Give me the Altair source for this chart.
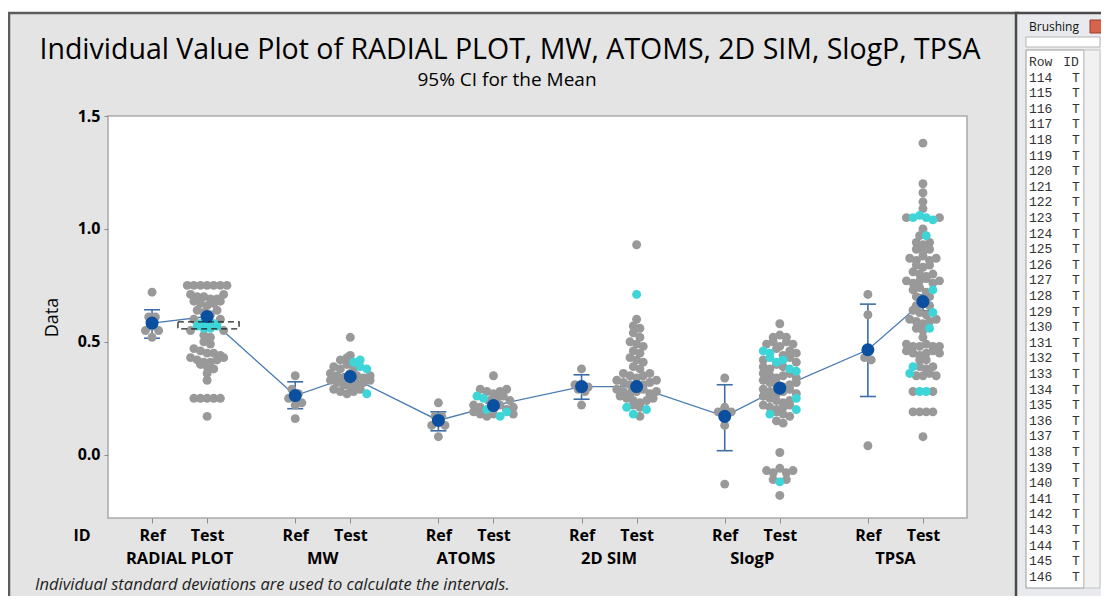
import altair as alt
import pandas as pd

FONT = "Open Sans"
MONO = "Liberation Mono"

groups = ["RADIAL PLOT", "MW", "ATOMS", "2D SIM", "SlogP", "TPSA"]
id_levels = ["Ref", "Test"]

# ---- individual values ----
radial_ref = [0.72, 0.61, 0.61, 0.55, 0.57, 0.55, 0.52]
radial_test = [0.75, 0.75, 0.75, 0.75, 0.75, 0.75, 0.75,
               0.71, 0.70, 0.70, 0.69, 0.69, 0.71,
               0.68, 0.67, 0.66, 0.67, 0.68,
               0.64, 0.63, 0.62, 0.64,
               0.60, 0.58, 0.58, 0.58, 0.60,
               0.55, 0.57, 0.56, 0.56, 0.57, 0.55,
               0.53, 0.52,
               0.50, 0.49,
               0.47, 0.46, 0.45, 0.45, 0.44,
               0.43, 0.42, 0.41, 0.41, 0.42, 0.43,
               0.40, 0.39, 0.38,
               0.36, 0.33,
               0.25, 0.25, 0.25, 0.25, 0.25,
               0.17]
radial_test_brushed = [0, 0, 0, 0, 0, 0, 0,
                       0, 0, 0, 0, 0, 0,
                       0, 0, 0, 0, 0,
                       0, 0, 0, 0,
                       0, 1, 1, 1, 0,
                       0, 1, 1, 1, 1, 0,
                       0, 0,
                       0, 0,
                       0, 0, 0, 0, 0,
                       0, 0, 0, 0, 0, 0,
                       0, 0, 0,
                       0, 0,
                       0, 0, 0, 0, 0,
                       0]

mw_ref = [0.35, 0.29, 0.27, 0.25, 0.26, 0.23, 0.22, 0.16]
mw_test = [0.52,
           0.44,
           0.42, 0.43, 0.41, 0.42,
           0.39, 0.38, 0.40, 0.38, 0.39, 0.38,
           0.36, 0.35, 0.34, 0.36, 0.35, 0.34, 0.35,
           0.33, 0.32, 0.31, 0.30, 0.31, 0.32, 0.33,
           0.29, 0.28, 0.27, 0.28, 0.29, 0.27]
mw_test_brushed = [0,
                   0,
                   0, 0, 1, 1,
                   0, 0, 0, 0, 1, 1,
                   0, 0, 0, 0, 0, 0, 0,
                   0, 0, 0, 0, 0, 0, 0,
                   0, 0, 0, 0, 0, 1]

atoms_ref = [0.23, 0.17, 0.17, 0.13, 0.15, 0.13, 0.08]
atoms_test = [0.35,
              0.29, 0.28, 0.27, 0.28, 0.29,
              0.26, 0.25, 0.24, 0.25, 0.26, 0.24,
              0.22, 0.21, 0.20, 0.21, 0.22, 0.20, 0.21,
              0.19, 0.18, 0.17, 0.18, 0.17, 0.19, 0.18]
atoms_test_brushed = [0,
                      0, 0, 0, 0, 0,
                      1, 1, 0, 0, 0, 0,
                      0, 0, 1, 1, 0, 0, 0,
                      0, 0, 0, 0, 1, 1, 0]

sim2d_ref = [0.38, 0.31, 0.30, 0.30, 0.29, 0.28, 0.22]
sim2d_test = [0.93,
              0.71,
              0.60,
              0.57, 0.56,
              0.54, 0.52,
              0.50, 0.49, 0.48,
              0.46, 0.45,
              0.43, 0.42, 0.41,
              0.39, 0.38,
              0.36, 0.35, 0.34, 0.35, 0.36,
              0.33, 0.32, 0.31, 0.30, 0.31, 0.32, 0.33,
              0.29, 0.28, 0.27, 0.28, 0.29, 0.27, 0.28,
              0.26, 0.25, 0.24, 0.23, 0.24, 0.25,
              0.21, 0.22, 0.21, 0.20,
              0.18, 0.17]
sim2d_test_brushed = [0,
                      1,
                      0,
                      0, 0,
                      0, 0,
                      0, 0, 0,
                      0, 0,
                      0, 0, 0,
                      0, 0,
                      0, 0, 0, 0, 0,
                      0, 0, 0, 0, 0, 0, 0,
                      0, 0, 0, 0, 0, 0, 0,
                      0, 0, 0, 0, 0, 0,
                      1, 0, 0, 1,
                      1, 0]

slogp_ref = [0.34, 0.21, 0.19, 0.17, 0.19, 0.13, -0.13]
slogp_test = [0.58,
              0.52, 0.53, 0.52,
              0.49, 0.50, 0.48, 0.50, 0.49,
              0.46, 0.45, 0.47, 0.44, 0.46, 0.45,
              0.42, 0.43, 0.41, 0.42, 0.43, 0.41,
              0.39, 0.38, 0.40, 0.39, 0.38, 0.37,
              0.36, 0.35, 0.34, 0.35, 0.36, 0.34,
              0.33, 0.32, 0.31, 0.30, 0.31, 0.32,
              0.29, 0.28, 0.27, 0.28, 0.29, 0.27,
              0.26, 0.25, 0.24, 0.23, 0.24, 0.25,
              0.22, 0.21, 0.20, 0.21, 0.22, 0.20,
              0.18, 0.19, 0.18, 0.17,
              0.15, 0.14,
              0.01,
              -0.07, -0.08, -0.06, -0.08, -0.07,
              -0.11, -0.12, -0.11,
              -0.18]
slogp_test_brushed = [0,
                      0, 0, 0,
                      0, 0, 0, 0, 0,
                      1, 1, 0, 0, 0, 0,
                      0, 1, 1, 1, 0, 0,
                      0, 0, 0, 0, 1, 1,
                      0, 0, 0, 0, 0, 0,
                      0, 0, 0, 0, 0, 0,
                      0, 0, 0, 0, 0, 0,
                      0, 0, 0, 0, 0, 1,
                      0, 0, 0, 0, 0, 1,
                      1, 0, 0, 0,
                      0, 0,
                      0,
                      0, 0, 0, 0, 0,
                      0, 1, 0,
                      0]

tpsa_ref = [0.71, 0.62, 0.47, 0.43, 0.42, 0.04]
tpsa_test = [1.38,
             1.20,
             1.16,
             1.12,
             1.09,
             1.05, 1.05, 1.06, 1.05, 1.04, 1.05,
             1.00,
             0.97, 0.97,
             0.94, 0.93, 0.94,
             0.91, 0.90, 0.91,
             0.87, 0.86, 0.88, 0.86, 0.87,
             0.84, 0.83, 0.84,
             0.81, 0.80, 0.79, 0.80,
             0.77, 0.76, 0.77, 0.78, 0.76, 0.77,
             0.73, 0.74, 0.72, 0.73,
             0.70, 0.69, 0.70,
             0.66, 0.67, 0.66,
             0.64, 0.63, 0.62, 0.63,
             0.60, 0.59, 0.58, 0.59, 0.60,
             0.56, 0.55, 0.56,
             0.52,
             0.49, 0.48, 0.48, 0.49, 0.48, 0.48,
             0.46, 0.45, 0.44, 0.45, 0.46, 0.45,
             0.42, 0.42,
             0.39, 0.39, 0.38, 0.39,
             0.36, 0.35, 0.35, 0.36, 0.35,
             0.28, 0.28, 0.28, 0.28,
             0.19, 0.19, 0.19, 0.19,
             0.08]
tpsa_test_brushed = [0,
                     0,
                     0,
                     0,
                     0,
                     0, 1, 1, 1, 1, 0,
                     0,
                     0, 1,
                     0, 0, 0,
                     0, 0, 0,
                     0, 0, 0, 0, 0,
                     0, 0, 0,
                     0, 0, 0, 0,
                     0, 0, 0, 0, 0, 0,
                     0, 0, 0, 1,
                     0, 0, 0,
                     0, 0, 0,
                     0, 0, 0, 1,
                     0, 0, 0, 0, 0,
                     0, 0, 1,
                     0,
                     0, 0, 0, 0, 0, 0,
                     0, 0, 0, 0, 0, 0,
                     0, 0,
                     1, 0, 0, 0,
                     1, 0, 0, 0, 0,
                     0, 1, 1, 0,
                     0, 0, 0, 0,
                     0]

# ---- means and 95% CI, order: group x (Ref, Test) ----
mean_vals = [0.583, 0.612, 0.262, 0.346, 0.152, 0.218, 0.302, 0.302, 0.170, 0.295, 0.465, 0.678]
ci_lo = [0.516, 0.594, 0.204, 0.334, 0.106, 0.207, 0.246, 0.289, 0.018, 0.283, 0.258, 0.638]
ci_hi = [0.642, 0.630, 0.323, 0.358, 0.190, 0.229, 0.354, 0.315, 0.310, 0.307, 0.667, 0.708]

# brushing rectangle drawn over RADIAL PLOT / Test
brush_range = [0.557, 0.588]

# brushing window rows
brush_rows = list(range(114, 147))
brush_ids = ["T"] * len(brush_rows)

title_text = "Individual Value Plot of RADIAL PLOT, MW, ATOMS, 2D SIM, SlogP, TPSA"
subtitle_text = "95% CI for the Mean"
footnote_text = "Individual standard deviations are used to calculate the intervals."

ref_lists = [radial_ref, mw_ref, atoms_ref, sim2d_ref, slogp_ref, tpsa_ref]
test_lists = [radial_test, mw_test, atoms_test, sim2d_test, slogp_test, tpsa_test]
test_flags = [radial_test_brushed, mw_test_brushed, atoms_test_brushed,
              sim2d_test_brushed, slogp_test_brushed, tpsa_test_brushed]

rows = []
for g, name in enumerate(groups):
    for v in ref_lists[g]:
        rows.append(dict(g=g, group=name, id="Ref", value=v, brushed=0, idx=len(rows)))
    assert len(test_lists[g]) == len(test_flags[g]), name
    for v, b in zip(test_lists[g], test_flags[g]):
        rows.append(dict(g=g, group=name, id="Test", value=v, brushed=b, idx=len(rows)))
points_df = pd.DataFrame(rows)

means_df = pd.DataFrame({
    "g": [g for g in range(len(groups)) for _ in id_levels],
    "id": id_levels * len(groups),
    "mean": mean_vals, "lo": ci_lo, "hi": ci_hi,
})
groups_df = pd.DataFrame({"g": list(range(len(groups))), "group": groups})
brush_df = pd.DataFrame({"g": [0], "id": ["Test"], "lo": [brush_range[0]], "hi": [brush_range[1]]})
list_df = pd.DataFrame({"row": brush_rows, "id": brush_ids})
one = pd.DataFrame({"k": [0]})

W, H = 859, 402
STEP = 2.6          # distance between groups (x units)
POS = "datum.g * 2.6 + (datum.id == 'Test' ? 1 : 0)"
tick_positions = [g * STEP + k for g in range(len(groups)) for k in (0, 1)]

x_scale = alt.Scale(domain=[-0.8, 14.8], nice=False, zero=False)
y_scale = alt.Scale(domain=[-0.28, 1.5], nice=False, zero=False)

x_axis = alt.Axis(values=tick_positions,
                  labelExpr="round(datum.value * 10) % 26 == 0 ? 'Ref' : 'Test'",
                  title=None, grid=False, domain=False, tickSize=5, tickColor="#8c8c8c",
                  labelFont=FONT, labelFontSize=16, labelFontWeight="bold", labelColor="black",
                  labelPadding=4, labelOverlap=False, labelFlush=False, zindex=1)
y_axis = alt.Axis(values=[0.0, 0.5, 1.0, 1.5], format=".1f", title="Data",
                  titleFont=FONT, titleFontSize=18, titleFontWeight="normal", titleColor="black",
                  titlePadding=16, grid=False, domain=False, tickSize=4, tickColor="#8c8c8c",
                  labelFont=FONT, labelFontSize=16, labelFontWeight="bold", labelColor="black",
                  labelPadding=4, labelFlush=False, zindex=1)

# ---- background panels ----
panel = alt.Chart(one).mark_rect(fill="#e4e4e4", stroke="#5c5c5c", strokeWidth=2.5).encode(
    x=alt.value(-99), x2=alt.value(910), y=alt.value(-103), y2=alt.value(520))
plot_bg = alt.Chart(one).mark_rect(fill="white", stroke="#a9a9a9", strokeWidth=1.5).encode(
    x=alt.value(0), x2=alt.value(W), y=alt.value(0), y2=alt.value(H))

# ---- titles (text marks, centred on the panel) ----
title_mark = alt.Chart(one).mark_text(
    font=FONT, fontSize=28.5, color="black", align="center", baseline="middle"
).encode(x=alt.value(402), y=alt.value(-66), text=alt.value(title_text))
subtitle_mark = alt.Chart(one).mark_text(
    font=FONT, fontSize=19, fontWeight=500, color="black", align="center", baseline="middle"
).encode(x=alt.value(399), y=alt.value(-36), text=alt.value(subtitle_text))

# ---- individual values with a dot-plot spread ----
pts = alt.Chart(points_df).transform_calculate(
    pos=POS,
    ybin="round(datum.value / 0.035)",
).transform_joinaggregate(
    n="count()", groupby=["g", "id", "ybin"]
).transform_window(
    rn="row_number()", groupby=["g", "id", "ybin"], sort=[alt.SortField("idx", order="ascending")]
).transform_calculate(
    xj="datum.pos + (datum.rn - 1 - (datum.n - 1) / 2) * 0.12"
)
enc_pts = dict(x=alt.X("xj:Q", scale=x_scale, axis=x_axis),
               y=alt.Y("value:Q", scale=y_scale, axis=y_axis))
gray_pts = pts.transform_filter("datum.brushed == 0").mark_circle(
    size=80, opacity=1, color="#999999").encode(**enc_pts)
cyan_pts = pts.transform_filter("datum.brushed == 1").mark_circle(
    size=80, opacity=1, color="#3ed5d9").encode(**enc_pts)

# ---- means, CI bars, connect line ----
mb = alt.Chart(means_df).transform_calculate(pos=POS)
xm = alt.X("pos:Q", scale=x_scale, axis=x_axis)
BLUE_LINE = "#4a7cb3"
line = mb.mark_line(color=BLUE_LINE, strokeWidth=1.3).encode(
    x=xm, y=alt.Y("mean:Q", scale=y_scale, axis=y_axis))
bars = mb.mark_rule(color="#3d6ea6", strokeWidth=1.6).encode(
    x=xm, y=alt.Y("lo:Q", scale=y_scale, axis=y_axis), y2="hi:Q")
cap_lo = mb.mark_tick(orient="horizontal", size=16, thickness=1.6, color="#3d6ea6", opacity=1).encode(
    x=xm, y=alt.Y("lo:Q", scale=y_scale, axis=y_axis))
cap_hi = mb.mark_tick(orient="horizontal", size=16, thickness=1.6, color="#3d6ea6", opacity=1).encode(
    x=xm, y=alt.Y("hi:Q", scale=y_scale, axis=y_axis))
mean_dots = mb.mark_circle(size=170, opacity=1, color="#0b4fa0").encode(
    x=xm, y=alt.Y("mean:Q", scale=y_scale, axis=y_axis))

box = alt.Chart(brush_df).transform_calculate(
    x0=POS + " - 0.53", x1=POS + " + 0.58"
).mark_rect(fillOpacity=0, stroke="#222222", strokeWidth=1.3, strokeDash=[6, 4]).encode(
    x=alt.X("x0:Q", scale=x_scale, axis=x_axis), x2="x1:Q",
    y=alt.Y("lo:Q", scale=y_scale, axis=y_axis), y2="hi:Q")

# ---- text below axis ----
group_labels = alt.Chart(groups_df).transform_calculate(mid="datum.g * 2.6 + 0.5").mark_text(
    font=FONT, fontSize=16.5, fontWeight="bold", color="black", baseline="middle", align="center"
).encode(x=alt.X("mid:Q", scale=x_scale, axis=x_axis), y=alt.value(443), text="group:N")
id_label = alt.Chart(one).mark_text(
    font=FONT, fontSize=16, fontWeight="bold", color="black", baseline="middle", align="center"
).encode(x=alt.value(-26), y=alt.value(420), text=alt.value("ID"))
footnote = alt.Chart(one).mark_text(
    font=FONT, fontSize=16.5, fontStyle="italic", color="#222222", baseline="middle", align="left"
).encode(x=alt.value(-73), y=alt.value(469), text=alt.value(footnote_text))

# ---- brushing window ----
win = alt.Chart(one).mark_rect(fill="#e8eaee", stroke="#4a4a4a", strokeWidth=2.5).encode(
    x=alt.value(908), x2=alt.value(1010), y=alt.value(-103), y2=alt.value(486))
win_title = alt.Chart(one).mark_text(font=FONT, fontSize=12, color="#111", align="left", baseline="middle").encode(
    x=alt.value(921), y=alt.value(-89), text=alt.value("Brushing"))
close_btn = alt.Chart(one).mark_rect(fill="#d6634c", stroke="#9a3b2a").encode(
    x=alt.value(982), x2=alt.value(996), y=alt.value(-96), y2=alt.value(-83))
field = alt.Chart(one).mark_rect(fill="white", stroke="#b5b5b5").encode(
    x=alt.value(918), x2=alt.value(992), y=alt.value(-79), y2=alt.value(-69))
listbox = alt.Chart(one).mark_rect(fill="white", stroke="#9a9a9a").encode(
    x=alt.value(918), x2=alt.value(976), y=alt.value(-66), y2=alt.value(472))
scroll = alt.Chart(one).mark_rect(fill="#f1f1f1", stroke="#c4c4c4").encode(
    x=alt.value(976), x2=alt.value(992), y=alt.value(-66), y2=alt.value(472))
hdr_row = alt.Chart(one).mark_text(font=MONO, fontSize=13, color="#333", align="left", baseline="middle").encode(
    x=alt.value(921), y=alt.value(-54), text=alt.value("Row"))
hdr_id = alt.Chart(one).mark_text(font=MONO, fontSize=13, color="#333", align="center", baseline="middle").encode(
    x=alt.value(963), y=alt.value(-54), text=alt.value("ID"))
lst = alt.Chart(list_df).transform_window(rn="row_number()").transform_calculate(
    py="-38.5 + (datum.rn - 1) * 15.6")
lst_row = lst.mark_text(font=MONO, fontSize=13, color="#333", align="left", baseline="middle").encode(
    x=alt.value(921), y=alt.Y("py:Q", scale=None, axis=None), text="row:N")
lst_id = lst.mark_text(font=MONO, fontSize=13, color="#333", align="center", baseline="middle").encode(
    x=alt.value(968), y=alt.Y("py:Q", scale=None, axis=None), text="id:N")

chart = alt.layer(
    panel, plot_bg, title_mark, subtitle_mark,
    line, bars, cap_lo, cap_hi, gray_pts, cyan_pts, mean_dots, box,
    group_labels, id_label, footnote,
    win, win_title, close_btn, field, listbox, scroll, hdr_row, hdr_id, lst_row, lst_id,
).properties(
    width=W, height=H, background="white",
    padding={"left": 100, "top": 108, "right": 134, "bottom": 78},
    autosize=alt.AutoSizeParams(type="none"),
).configure_view(stroke=None)

chart.save("out.html", embed_options={"renderer": "svg", "actions": False})
